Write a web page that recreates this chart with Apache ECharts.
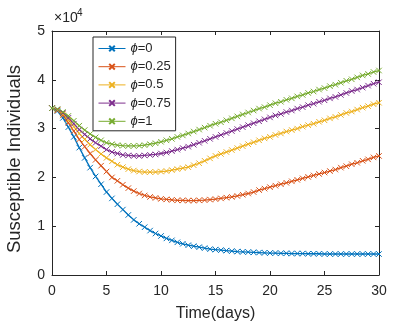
<!DOCTYPE html>
<html>
<head>
<meta charset="utf-8">
<script src="https://cdn.jsdelivr.net/npm/echarts@6/dist/echarts.min.js"></script>
<style>html,body{margin:0;padding:0;background:#fff;}#c{width:401px;height:325px;}</style>
</head>
<body>
<div id="c"></div>
<script>
// Time (days)
var times = [0,0.5,1,1.5,2,2.5,3,3.5,4,4.5,5,5.5,6,6.5,7,7.5,8,8.5,9,9.5,10,10.5,11,11.5,12,12.5,13,13.5,14,14.5,15,15.5,16,16.5,17,17.5,18,18.5,19,19.5,20,20.5,21,21.5,22,22.5,23,23.5,24,24.5,25,25.5,26,26.5,27,27.5,28,28.5,29,29.5,30];
// Susceptible individuals, in units of 10^4
var phi0 = [3.42,3.36,3.22,3.03,2.83,2.61,2.4,2.2,2.02,1.86,1.7,1.57,1.45,1.34,1.23,1.13,1.05,0.98,0.91,0.85,0.8,0.75,0.71,0.67,0.64,0.61,0.59,0.57,0.55,0.53,0.52,0.51,0.5,0.49,0.48,0.475,0.47,0.465,0.46,0.455,0.45,0.45,0.445,0.445,0.44,0.44,0.44,0.435,0.435,0.435,0.43,0.43,0.43,0.43,0.43,0.43,0.43,0.43,0.43,0.43,0.43];
var phi025 = [3.42,3.37,3.27,3.12,2.95,2.78,2.63,2.49,2.36,2.24,2.12,2.0,1.93,1.85,1.78,1.72,1.67,1.63,1.6,1.58,1.56,1.55,1.54,1.53,1.53,1.525,1.525,1.53,1.535,1.545,1.555,1.57,1.585,1.6,1.62,1.645,1.67,1.7,1.74,1.77,1.8,1.83,1.86,1.89,1.92,1.95,1.98,2.01,2.04,2.07,2.1,2.13,2.16,2.2,2.23,2.27,2.3,2.34,2.37,2.41,2.44];
var phi05 = [3.42,3.38,3.3,3.18,3.04,2.9,2.78,2.67,2.57,2.48,2.4,2.33,2.26,2.21,2.17,2.14,2.12,2.11,2.11,2.11,2.12,2.13,2.15,2.17,2.19,2.21,2.25,2.29,2.34,2.39,2.44,2.48,2.52,2.56,2.6,2.64,2.68,2.72,2.76,2.8,2.83,2.87,2.9,2.94,2.97,3.0,3.04,3.07,3.1,3.14,3.17,3.21,3.24,3.28,3.32,3.35,3.39,3.43,3.46,3.5,3.53];
var phi075 = [3.42,3.39,3.32,3.22,3.1,2.98,2.88,2.79,2.71,2.64,2.57,2.52,2.49,2.46,2.45,2.44,2.44,2.45,2.46,2.47,2.49,2.51,2.54,2.57,2.6,2.63,2.67,2.71,2.75,2.79,2.83,2.87,2.91,2.95,2.99,3.03,3.07,3.11,3.15,3.19,3.23,3.27,3.3,3.34,3.37,3.41,3.44,3.48,3.51,3.55,3.58,3.62,3.65,3.69,3.73,3.77,3.8,3.84,3.88,3.92,3.95];
var phi1 = [3.42,3.4,3.34,3.26,3.16,3.06,2.97,2.89,2.82,2.76,2.71,2.68,2.66,2.65,2.645,2.645,2.65,2.66,2.68,2.7,2.73,2.76,2.79,2.83,2.86,2.9,2.94,2.98,3.02,3.06,3.1,3.13,3.17,3.21,3.25,3.29,3.33,3.37,3.41,3.44,3.48,3.52,3.55,3.59,3.62,3.66,3.69,3.73,3.76,3.8,3.83,3.87,3.9,3.94,3.98,4.01,4.05,4.09,4.12,4.16,4.19];
var seriesNames = ['ϕ=0','ϕ=0.25','ϕ=0.5','ϕ=0.75','ϕ=1'];
var seriesData = [phi0, phi025, phi05, phi075, phi1];
var colors = ['#0072BD','#D95319','#EDB120','#7E2F8E','#77AC30'];
var xTicks = {min:0, max:30, interval:5};
var yTicks = {min:0, max:5, interval:1};

var axisColor = '#262626';
var font = 'Arial, "Liberation Sans", Helvetica, sans-serif';
var xSymbol = 'path://M0,0L10,10M10,0L0,10';

function pairs(arr){ return arr.map(function(v,i){ return [times[i], v]; }); }

var series = seriesNames.map(function(n, k){
  return {
    name: n, type: 'line', xAxisIndex: 0, yAxisIndex: 0,
    data: pairs(seriesData[k]),
    symbol: xSymbol, symbolSize: 5.5, showAllSymbol: true,
    lineStyle: {color: colors[k], width: 1.3},
    itemStyle: {color: colors[k], borderColor: colors[k], borderWidth: 1},
    emphasis: {disabled: true},
    animation: false
  };
});

var baseAxis = {
  axisLine: {show: true, onZero: false, lineStyle: {color: axisColor, width: 1}},
  axisTick: {show: true, inside: true, length: 4, lineStyle: {color: axisColor}},
  splitLine: {show: false}
};

var chart = echarts.init(document.getElementById('c'), null, {renderer: 'canvas'});
chart.setOption({
  backgroundColor: '#fff',
  animation: false,
  title: [
    {text: '×10', left: 54, top: 11, padding: 0, textStyle: {fontSize: 14, fontWeight: 'normal', fontFamily: font, color: axisColor}},
    {text: '4', left: 77, top: 8, padding: 0, textStyle: {fontSize: 10, fontWeight: 'normal', fontFamily: font, color: axisColor}}
  ],
  grid: {left: 52, right: 22, top: 31, bottom: 50, containLabel: false, outerBoundsMode: 'none'},
  xAxis: [
    Object.assign({}, baseAxis, {type: 'value', position: 'bottom', min: xTicks.min, max: xTicks.max, interval: xTicks.interval,
      axisLabel: {show: true, color: axisColor, fontSize: 14, fontFamily: font, margin: 9},
      name: 'Time(days)', nameLocation: 'middle', nameGap: 31,
      nameTextStyle: {color: axisColor, fontSize: 16, fontFamily: font}}),
    Object.assign({}, baseAxis, {type: 'value', position: 'top', min: xTicks.min, max: xTicks.max, interval: xTicks.interval,
      axisLabel: {show: false}})
  ],
  yAxis: [
    Object.assign({}, baseAxis, {type: 'value', position: 'left', min: yTicks.min, max: yTicks.max, interval: yTicks.interval,
      axisLabel: {show: true, color: axisColor, fontSize: 14, fontFamily: font, margin: 7}}),
    Object.assign({}, baseAxis, {type: 'value', position: 'right', min: yTicks.min, max: yTicks.max, interval: yTicks.interval,
      axisLabel: {show: false}})
  ],
  legend: {
    show: true, orient: 'vertical', left: 93, top: 37,
    padding: [5, 5, 3, 5],
    itemWidth: 27, itemHeight: 7, itemGap: 5.2,
    backgroundColor: '#fff', borderColor: axisColor, borderWidth: 1,
    selectedMode: false,
    data: seriesNames,
    lineStyle: {width: 1},
    formatter: function(name){ return '{i|ϕ}' + name.slice(1); },
    textStyle: {color: axisColor, fontSize: 13, fontFamily: font, lineHeight: 12,
      rich: {i: {fontStyle: 'italic', fontSize: 13, fontFamily: font, color: axisColor, lineHeight: 12}}}
  },
  graphic: [
    {type: 'text', x: 15, y: 159, rotation: Math.PI / 2,
      style: {text: 'Susceptible Individuals', font: '18.5px ' + font, fill: axisColor, align: 'center', verticalAlign: 'middle'}}
  ],
  series: series
});
</script>
</body>
</html>
